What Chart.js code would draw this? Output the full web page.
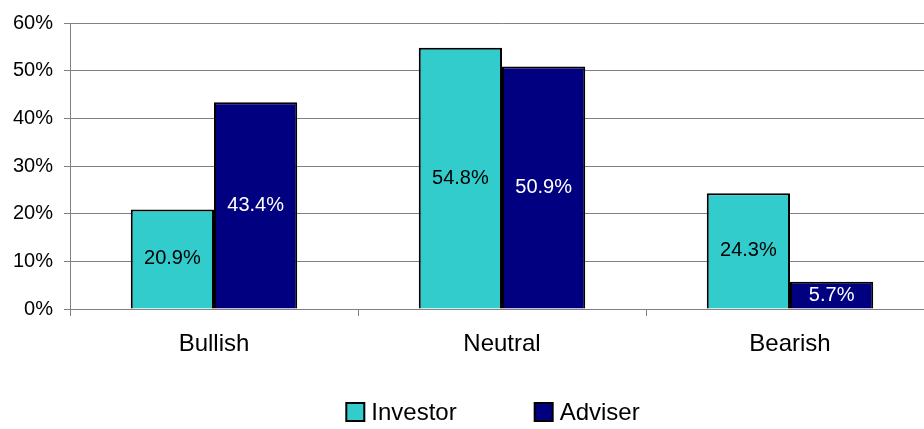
<!DOCTYPE html>
<html>
<head>
<meta charset="utf-8">
<script src="https://cdn.jsdelivr.net/npm/chart.js@4/dist/chart.umd.min.js"></script>
<style>
html,body{margin:0;padding:0;background:#fff;overflow:hidden;}
#wrap{width:934px;height:429px;position:relative;}
</style>
</head>
<body>
<div id="wrap"><canvas id="c"></canvas></div>
<script>
const categories = ["Bullish", "Neutral", "Bearish"];
const seriesNames = ["Investor", "Adviser"];
const investorValues = [20.9, 54.8, 24.3];
const adviserValues = [43.4, 50.9, 5.7];
const yTicks = [0, 10, 20, 30, 40, 50, 60];

const FONT = "'Liberation Sans', Arial, sans-serif";

const valueLabels = {
  id: 'valueLabels',
  afterDatasetsDraw(chart) {
    const ctx = chart.ctx;
    ctx.save();
    ctx.font = "20px " + FONT;
    ctx.textAlign = 'center';
    ctx.textBaseline = 'middle';
    chart.data.datasets.forEach((ds, di) => {
      const meta = chart.getDatasetMeta(di);
      meta.data.forEach((bar, i) => {
        const v = ds.data[i];
        const y = (bar.y + bar.base) / 2;
        ctx.fillStyle = ds.labelColor;
        ctx.fillText(v.toFixed(1) + '%', bar.x, y);
      });
    });
    ctx.restore();
  }
};

const customLegend = {
  id: 'customLegend',
  afterDraw(chart) {
    const ctx = chart.ctx;
    ctx.save();
    ctx.font = "24px " + FONT;
    ctx.textBaseline = 'middle';
    const box = 18, gap = 7, spacing = 78, cy = 412;
    const items = chart.data.datasets.map(ds => ({ds, w: ctx.measureText(ds.label).width}));
    let total = 0;
    items.forEach((it, i) => { total += box + gap + it.w + (i ? spacing : 0); });
    let x = 493 - total / 2;
    items.forEach((it) => {
      ctx.fillStyle = it.ds.backgroundColor;
      ctx.fillRect(x, cy - box / 2, box, box);
      ctx.lineWidth = 2;
      ctx.strokeStyle = '#000';
      ctx.strokeRect(x, cy - box / 2, box, box);
      ctx.fillStyle = '#000';
      ctx.textAlign = 'left';
      ctx.fillText(it.ds.label, x + box + gap, cy + 1);
      x += box + gap + it.w + spacing;
    });
    ctx.restore();
  }
};

new Chart(document.getElementById('c'), {
  type: 'bar',
  data: {
    labels: categories,
    datasets: [
      { label: seriesNames[0], data: investorValues, backgroundColor: '#33CCCC', borderColor: '#000', borderWidth: 2, labelColor: '#000' },
      { label: seriesNames[1], data: adviserValues, backgroundColor: '#000080', borderColor: '#000', borderWidth: 2, labelColor: '#fff' }
    ]
  },
  options: {
    responsive: true,
    maintainAspectRatio: false,
    animation: false,
    devicePixelRatio: 1,
    layout: { padding: { top: 21, left: 0, right: 0, bottom: 0 } },
    datasets: { bar: { categoryPercentage: 0.578, barPercentage: 1.0 } },
    plugins: { legend: { display: false }, tooltip: { enabled: false } },
    scales: {
      x: {
        grid: { display: true, drawOnChartArea: false, drawTicks: true, tickLength: 7, color: '#808080', lineWidth: 1, offset: true },
        border: { display: true, color: '#808080', width: 1 },
        ticks: { color: '#000', font: { family: FONT, size: 24 }, padding: 14, maxRotation: 0 },
        afterFit: s => { s.height = 120; }
      },
      y: {
        min: 0, max: 60,
        afterBuildTicks: s => { s.ticks = yTicks.map(v => ({ value: v })); },
        grid: { color: '#808080', lineWidth: 1, tickLength: 6, drawTicks: true },
        border: { display: true, color: '#808080', width: 1 },
        ticks: { color: '#000', font: { family: FONT, size: 20 }, padding: 11, callback: v => v + '%' },
        afterFit: s => { s.width = 70; }
      }
    }
  },
  plugins: [valueLabels, customLegend]
});
</script>
</body>
</html>
